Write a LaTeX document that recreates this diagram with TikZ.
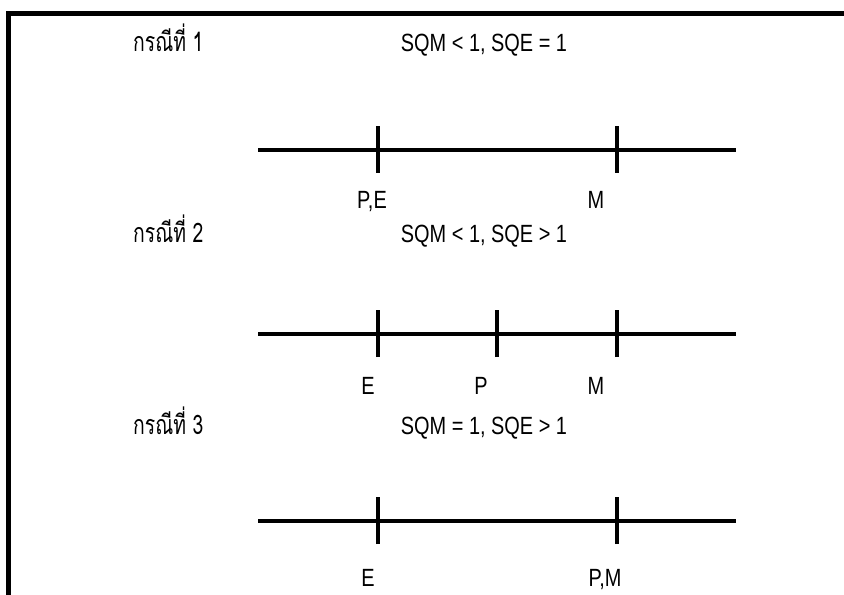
\documentclass[tikz,border=0pt]{standalone}
\usepackage{fontspec}
\newfontfamily\latfont[FakeStretch=0.8]{Liberation Sans}
\newfontfamily\thaifont[Script=Thai,FakeStretch=0.72]{Loma}
\begin{document}
\begin{tikzpicture}[x=1bp,y=-1bp,
  frame/.style={line width=5bp},
  axis/.style={line width=3.5bp},
  tickmark/.style={line width=3.5bp},
  casetitle/.style={anchor=base west,inner sep=0pt,font=\thaifont\fontsize{27}{29}\selectfont},
  condition/.style={anchor=base,inner sep=0pt,font=\latfont\fontsize{25}{28}\selectfont},
  ptlabel/.style={anchor=base,inner sep=0pt,font=\latfont\fontsize{25}{28}\selectfont}]
\useasboundingbox (0,0) rectangle (844,595);
% frame on the left and top
\coordinate (ftl) at (8.5,13.5);
\coordinate (ftr) at (844,13.5);
\coordinate (fbl) at (8.5,595);
\draw[frame] (fbl) -- (ftl) -- (ftr);

% ---- case 1 ----
\node[casetitle] (c1) at (133,52) {กรณีที่ 1};
\node[condition] (q1) at (484,52) {SQM < 1, SQE = 1};
\coordinate (a1) at (258,150);
\coordinate (b1) at (736,150);
\draw[axis] (a1) -- (b1);
\coordinate (t1a) at (378,150);
\coordinate (t1b) at (617,150);
\foreach \t in {t1a,t1b}{\draw[tickmark] ([yshift=-23bp]\t) -- ([yshift=24bp]\t);}
\node[ptlabel] (l1a) at (372,209) {P,E};
\node[ptlabel] (l1b) at (596,209) {M};

% ---- case 2 ----
\node[casetitle] (c2) at (133,243) {กรณีที่ 2};
\node[condition] (q2) at (484,243) {SQM < 1, SQE > 1};
\coordinate (a2) at (258,334);
\coordinate (b2) at (736,334);
\draw[axis] (a2) -- (b2);
\coordinate (t2a) at (378,334);
\coordinate (t2b) at (497,334);
\coordinate (t2c) at (617,334);
\foreach \t in {t2a,t2b,t2c}{\draw[tickmark] ([yshift=-23bp]\t) -- ([yshift=24bp]\t);}
\node[ptlabel] (l2a) at (368,394) {E};
\node[ptlabel] (l2b) at (481,394) {P};
\node[ptlabel] (l2c) at (596,394) {M};

% ---- case 3 ----
\node[casetitle] (c3) at (133,434) {กรณีที่ 3};
\node[condition] (q3) at (484,434) {SQM = 1, SQE > 1};
\coordinate (a3) at (258,521);
\coordinate (b3) at (736,521);
\draw[axis] (a3) -- (b3);
\coordinate (t3a) at (378,521);
\coordinate (t3b) at (617,521);
\foreach \t in {t3a,t3b}{\draw[tickmark] ([yshift=-23bp]\t) -- ([yshift=24bp]\t);}
\node[ptlabel] (l3a) at (368,586) {E};
\node[ptlabel] (l3b) at (605,586) {P,M};
\end{tikzpicture}
\end{document}
